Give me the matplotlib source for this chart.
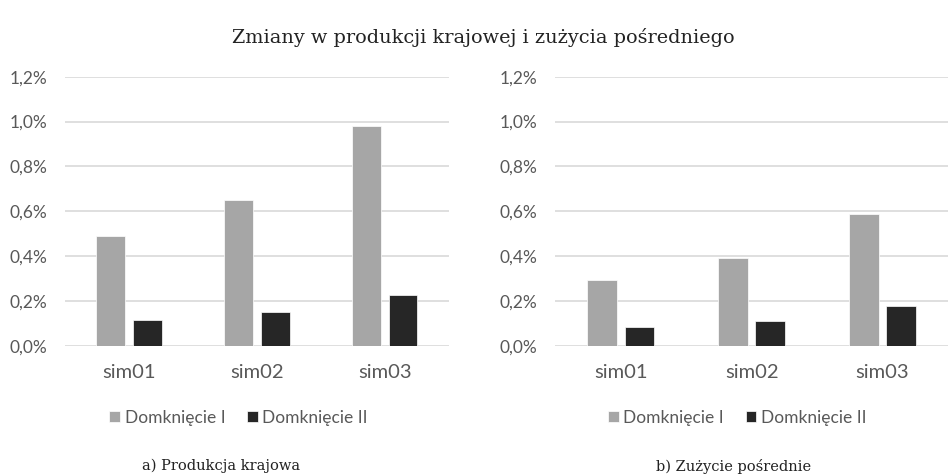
import matplotlib
matplotlib.use('Agg')
import matplotlib.pyplot as plt
import numpy as np

categories = ['sim01', 'sim02', 'sim03']
series_names = ['Domknięcie I', 'Domknięcie II']

# values in percent
produkcja_I = [0.49, 0.65, 0.98]
produkcja_II = [0.115, 0.15, 0.225]
zuzycie_I = [0.295, 0.39, 0.59]
zuzycie_II = [0.086, 0.113, 0.178]

yticks = [0.0, 0.2, 0.4, 0.6, 0.8, 1.0, 1.2]
ytick_labels = ['0,0%', '0,2%', '0,4%', '0,6%', '0,8%', '1,0%', '1,2%']

title = 'Zmiany w produkcji krajowej i zużycia pośredniego'
captions = ['a) Produkcja krajowa', 'b) Zużycie pośrednie']

COL_I = '#a6a6a6'
COL_II = '#262626'
TXT = '#595959'
SANS = ['Lato', 'DejaVu Sans']
SERIF = ['DejaVu Serif']

fig = plt.figure(figsize=(9.49, 4.75), dpi=100)

axes_pos = [[0.0685, 0.2716, 0.4045, 0.567],
            [0.585, 0.2716, 0.414, 0.567]]
data = [(produkcja_I, produkcja_II), (zuzycie_I, zuzycie_II)]
legend_x = [0.452, 0.463]
caption_x = [0.233, 0.773]

x = np.arange(len(categories))
w = 0.225
off = 0.142

for pos, (v1, v2), lx, cap, cx in zip(axes_pos, data, legend_x, captions, caption_x):
    ax = fig.add_axes(pos)
    ax.bar(x - off, v1, w, color=COL_I, edgecolor='white', linewidth=0.5,
           label=series_names[0], zorder=3)
    ax.bar(x + off, v2, w, color=COL_II, edgecolor='white', linewidth=0.5,
           label=series_names[1], zorder=3)
    ax.set_xlim(-0.5, 2.5)
    ax.set_ylim(0, 1.2)
    ax.set_yticks(yticks)
    ax.set_yticklabels(ytick_labels, family=SANS, fontsize=12.5, color=TXT)
    ax.set_xticks(x)
    ax.set_xticklabels(categories, family=SANS, fontsize=14.5, color=TXT)
    ax.tick_params(axis='both', length=0)
    ax.tick_params(axis='x', pad=13)
    ax.tick_params(axis='y', pad=13)
    ax.grid(axis='y', color='#d9d9d9', linewidth=1.2, zorder=0)
    for s in ax.spines.values():
        s.set_visible(False)
    leg = ax.legend(loc='center', bbox_to_anchor=(lx, -0.267), ncol=2,
                    frameon=False, handlelength=0.62, handleheight=0.62,
                    handletextpad=0.25, columnspacing=1.26,
                    prop={'family': SANS, 'size': 12.5})
    for t in leg.get_texts():
        t.set_color(TXT)
    fig.text(cx, 1 - 466 / 475, cap, ha='center', va='center',
             family=SERIF, fontsize=10.5, color='#222222')

fig.text(0.5095, 0.922, title, ha='center', va='center', family=SERIF,
         fontsize=13.9, color='#222222')

fig.savefig('out.png', dpi=100)
